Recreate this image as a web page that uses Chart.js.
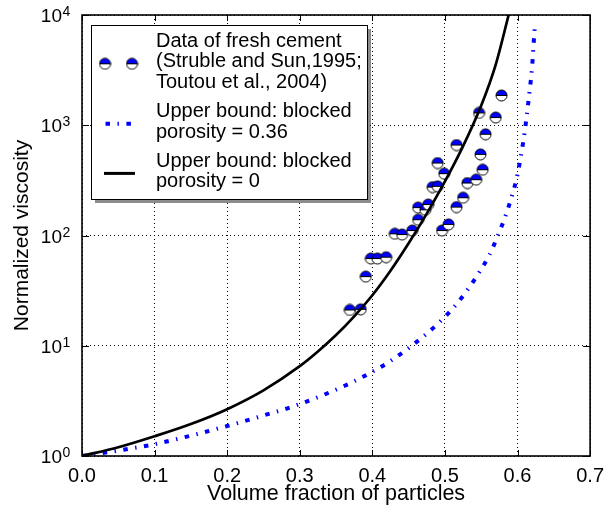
<!DOCTYPE html>
<html>
<head>
<meta charset="utf-8">
<script src="https://cdn.jsdelivr.net/npm/chart.js@4.4.0/dist/chart.umd.min.js"></script>
<style>
  html, body { margin: 0; padding: 0; background: #fff; }
  canvas { display: block; }
</style>
</head>
<body>
<canvas id="chart" width="612" height="510"></canvas>
<script>
// fresh cement data (Struble and Sun 1995; Toutou et al. 2004)
const cementX = [0.369, 0.384, 0.391, 0.398, 0.407, 0.419, 0.431, 0.441, 0.455, 0.463,
                 0.463, 0.473, 0.477, 0.483, 0.490, 0.490, 0.499, 0.496, 0.505, 0.516,
                 0.516, 0.525, 0.531, 0.543, 0.552, 0.549, 0.556, 0.547, 0.570, 0.578];
const cementY = [21.1, 21.4, 42.4, 61.8, 61.8, 63.5, 103.6, 102, 111, 139,
                 179, 171, 191, 275, 279, 454, 364, 111, 126, 662,
                 181, 220, 299, 321, 395, 544, 828, 1294, 1175, 1862];

// upper bound, blocked porosity = 0.36 (blue dash-dot)
const blueX = [0, 0.05, 0.1, 0.2, 0.26, 0.287, 0.315, 0.342, 0.369, 0.396,
               0.421, 0.445, 0.468, 0.491, 0.511, 0.527, 0.546, 0.561, 0.573, 0.583,
               0.593, 0.600, 0.6054, 0.610, 0.6136, 0.617, 0.620, 0.622, 0.624];
const blueY = [1, 1.12, 1.28, 1.87, 2.44, 2.76, 3.22, 3.8, 4.56, 5.62,
               7.0, 9.0, 11.8, 16.0, 21.8, 29.5, 45, 66, 100, 148,
               236, 358, 562, 880, 1370, 2140, 3310, 5250, 8260];

// upper bound, blocked porosity = 0 (black solid)
const blackX = [0, 0.05, 0.1, 0.15, 0.2, 0.25, 0.3, 0.325, 0.35, 0.375,
                0.4, 0.425, 0.45, 0.475, 0.5, 0.525, 0.55, 0.57, 0.5878];
const blackY = [1, 1.2, 1.51, 1.95, 2.66, 3.94, 6.53, 8.87, 12.5, 18.5,
                28.7, 47.9, 85, 158, 309, 646, 1510, 3550, 10000];

const xTicks = [0, 0.1, 0.2, 0.3, 0.4, 0.5, 0.6, 0.7];
const yTicks = [1, 10, 100, 1000, 10000];
const yTickExp = ['0', '1', '2', '3', '4'];

const legendText = [
  ['Data of fresh cement', '(Struble and Sun,1995;', 'Toutou et al., 2004)'],
  ['Upper bound: blocked', 'porosity = 0.36'],
  ['Upper bound: blocked', 'porosity = 0']
];

const FONT = '"Liberation Sans", Arial, sans-serif';
Chart.defaults.font.family = FONT;
Chart.defaults.color = '#000';

function toPoints(xs, ys) {
  return xs.map((x, i) => ({ x: x, y: ys[i] }));
}

// half filled circle, blue on top, white below
function halfMarker(r) {
  const c = document.createElement('canvas');
  const s = Math.ceil(2 * r + 2);
  c.width = s; c.height = s;
  const g = c.getContext('2d');
  const m = s / 2;
  g.beginPath(); g.arc(m, m, r, Math.PI, 2 * Math.PI); g.closePath();
  g.fillStyle = '#0000ff'; g.fill();
  g.beginPath(); g.arc(m, m, r, 0, Math.PI); g.closePath();
  g.fillStyle = '#ffffff'; g.fill();
  g.lineWidth = 1; g.strokeStyle = '#000';
  g.beginPath(); g.arc(m, m, r, 0, 2 * Math.PI);
  g.moveTo(m - r, m); g.lineTo(m + r, m);
  g.stroke();
  return c;
}

const marker = halfMarker(5.5);
const blueDash = [4.5, 7.5, 1.4, 7.5];

const framePlugin = {
  id: 'frame',
  afterDraw(chart) {
    const { ctx, chartArea: a, scales: { x, y } } = chart;
    ctx.save();

    // inward ticks
    ctx.strokeStyle = '#000';
    ctx.lineWidth = 1;
    ctx.beginPath();
    xTicks.forEach(v => {
      const px = Math.round(x.getPixelForValue(v)) + 0.5;
      ctx.moveTo(px, a.bottom); ctx.lineTo(px, a.bottom - 6);
      ctx.moveTo(px, a.top); ctx.lineTo(px, a.top + 6);
    });
    yTicks.forEach(v => {
      const py = Math.round(y.getPixelForValue(v)) + 0.5;
      ctx.moveTo(a.left, py); ctx.lineTo(a.left + 7, py);
      ctx.moveTo(a.right, py); ctx.lineTo(a.right - 7, py);
    });
    ctx.stroke();

    // frame
    ctx.lineWidth = 1.6;
    ctx.strokeRect(a.left, a.top, a.right - a.left, a.bottom - a.top);

    // y tick labels 10^n
    ctx.fillStyle = '#000';
    yTicks.forEach((v, i) => {
      const py = y.getPixelForValue(v);
      ctx.font = '19px ' + FONT;
      ctx.textAlign = 'right';
      ctx.textBaseline = 'alphabetic';
      ctx.fillText('10', a.left - 20, py + 7);
      ctx.font = '14px ' + FONT;
      ctx.textAlign = 'left';
      ctx.fillText(yTickExp[i], a.left - 19.5, py + 1);
    });

    // legend
    const bx = 91, by = 25, bw = 276, bh = 174;
    ctx.fillStyle = 'rgba(0,0,0,0.45)';
    ctx.fillRect(bx + 4, by + 4, bw, bh);
    ctx.fillStyle = '#fff';
    ctx.fillRect(bx, by, bw, bh);
    ctx.lineWidth = 1;
    ctx.strokeStyle = '#000';
    ctx.strokeRect(bx + 0.5, by + 0.5, bw, bh);

    ctx.font = '20px ' + FONT;
    ctx.textAlign = 'left';
    ctx.textBaseline = 'middle';
    ctx.fillStyle = '#000';
    let ty = 41;
    const centres = [];
    legendText.forEach(group => {
      const first = ty;
      group.forEach(line => {
        ctx.fillText(line, 156, ty);
        ty += 20.8;
      });
      centres.push((first + ty - 20.8) / 2 + 2);
      ty += 8;
    });

    ctx.drawImage(marker, 105 - marker.width / 2, centres[0] - marker.height / 2);
    ctx.drawImage(marker, 132 - marker.width / 2, centres[0] - marker.height / 2);

    ctx.lineCap = 'butt';
    ctx.strokeStyle = '#0000ff';
    ctx.lineWidth = 4;
    ctx.setLineDash(blueDash);
    ctx.beginPath(); ctx.moveTo(105.5, centres[1]); ctx.lineTo(132, centres[1]); ctx.stroke();
    ctx.setLineDash([]);

    ctx.strokeStyle = '#000';
    ctx.lineWidth = 3;
    ctx.beginPath(); ctx.moveTo(104, centres[2]); ctx.lineTo(135, centres[2]); ctx.stroke();

    ctx.restore();
  }
};

new Chart(document.getElementById('chart'), {
  type: 'scatter',
  data: {
    datasets: [
      {
        label: legendText[0].join(' '),
        data: toPoints(cementX, cementY),
        pointStyle: marker,
        pointRadius: 5,
        pointHoverRadius: 5,
        order: 3
      },
      {
        label: legendText[1].join(' '),
        data: toPoints(blueX, blueY),
        showLine: true,
        borderColor: '#0000ff',
        borderWidth: 4,
        borderDash: blueDash,
        borderCapStyle: 'butt',
        pointRadius: 0,
        cubicInterpolationMode: 'monotone',
        order: 2
      },
      {
        label: legendText[2].join(' '),
        data: toPoints(blackX, blackY),
        showLine: true,
        borderColor: '#000000',
        borderWidth: 2.7,
        pointRadius: 0,
        cubicInterpolationMode: 'monotone',
        order: 1
      }
    ]
  },
  options: {
    responsive: false,
    animation: false,
    devicePixelRatio: 1,
    layout: { padding: { left: 0, right: 15, top: 15, bottom: 0 } },
    plugins: {
      legend: { display: false },
      tooltip: { enabled: false }
    },
    scales: {
      x: {
        type: 'linear',
        min: 0,
        max: 0.7,
        afterBuildTicks: s => { s.ticks = xTicks.map(v => ({ value: v })); },
        afterFit: s => { s.height = 54; },
        ticks: {
          callback: v => v.toFixed(1),
          font: { size: 20 },
          color: '#000',
          padding: 8,
          maxRotation: 0,
          autoSkip: false
        },
        grid: { color: '#000', lineWidth: 1, drawTicks: false },
        border: { display: false, dash: [1, 3] },
        title: {
          display: true,
          text: 'Volume fraction of particles',
          font: { size: 21.5 },
          color: '#000',
          padding: { top: 0, bottom: 3 }
        }
      },
      y: {
        type: 'logarithmic',
        min: 1,
        max: 10000,
        afterBuildTicks: s => { s.ticks = yTicks.map(v => ({ value: v })); },
        afterFit: s => { s.width = 82; },
        ticks: { display: false },
        grid: { color: '#000', lineWidth: 1, drawTicks: false },
        border: { display: false, dash: [1, 3] },
        title: {
          display: true,
          text: 'Normalized viscosity',
          font: { size: 21 },
          color: '#000',
          padding: { top: 10, bottom: 0 }
        }
      }
    }
  },
  plugins: [framePlugin]
});
</script>
</body>
</html>
